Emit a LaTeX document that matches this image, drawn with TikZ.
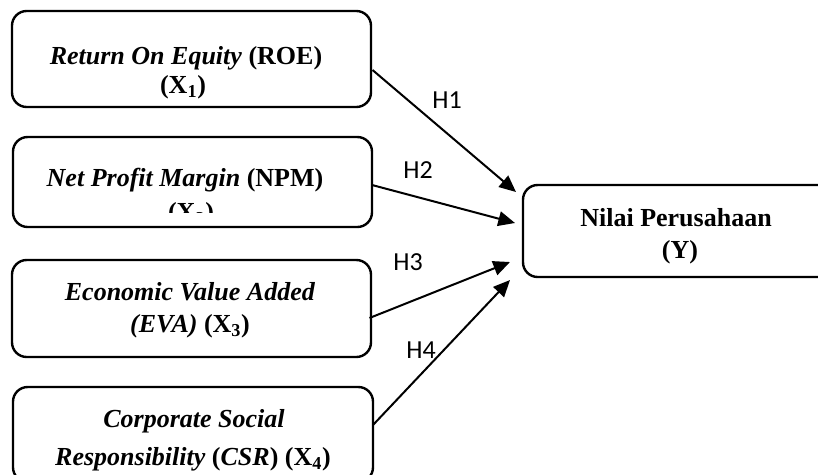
\documentclass[tikz,border=0pt]{standalone}
\usepackage{fontspec}
\setmainfont{Liberation Serif}
\newfontfamily\hfont{Carlito}
\usetikzlibrary{arrows.meta,calc}
\begin{document}
\begin{tikzpicture}[x=0.75pt,y=-0.75pt,
  box/.style={draw,line width=1.8pt,rounded corners=11pt,inner sep=0pt,outer sep=0pt},
  txt/.style={inner sep=0pt,anchor=base,font=\fontsize{19.5pt}{23pt}\selectfont\bfseries},
  hl/.style={inner sep=0pt,anchor=base,font=\hfont\fontsize{19.5pt}{23pt}\selectfont},
  arr/.style={-{Triangle[length=12.5pt,width=11pt]},line width=1.5pt}]
\useasboundingbox (0,0) rectangle (818,475);
\clip (0,0) rectangle (818,475);
% boxes
\node[box,minimum width=269.25pt,minimum height=72pt] (b1) at (191.5,59) {};
\node[box,minimum width=269.25pt,minimum height=67.5pt] (b2) at (192.5,182) {};
\node[box,minimum width=269.25pt,minimum height=72.75pt] (b3) at (191.5,308.5) {};
\node[box,minimum width=270pt,minimum height=71.25pt] (b4) at (193,434.5) {};
\node[box,minimum width=232.5pt,minimum height=69pt] (y) at (678,231) {};
% texts
\node[txt] (b1a) at (186,64) {\textit{Return On Equity} (ROE)};
\node[txt] (b1b) at (183,93) {(X\textsubscript{1})};
\node[txt] (b2a) at (185,186) {\textit{Net Profit Margin} (NPM)};
\begin{scope}
\clip (0,0) rectangle (818,212);
\node[txt] (b2b) at (191,220) {(X\textsubscript{2})};
\end{scope}
\node[txt] (b3a) at (190,300) {\textit{Economic Value Added}};
\node[txt] (b3b) at (190,332) {\textit{(EVA)} (X\textsubscript{3})};
\node[txt] (b4a) at (194,427) {\textit{Corporate Social}};
\node[txt] (b4b) at (193,465) {\textit{Responsibility} (\textit{CSR}) (X\textsubscript{4})};
\node[txt] (ya) at (676,226) {Nilai Perusahaan};
\node[txt] (yb) at (680,258) {(Y)};
% connector ends
\coordinate (s1) at ($(b1.east)+(1.5,11)$);
\coordinate (s2) at ($(b2.east)+(0,3)$);
\coordinate (s3) at ($(b3.east)+(-1.5,9.5)$);
\coordinate (s4) at ($(b4.east)+(0,-9.5)$);
\coordinate (t1) at ($(y.west)+(-7,-39)$);
\coordinate (t2) at ($(y.west)+(-8,-8)$);
\coordinate (t3) at ($(y.west)+(-13,31)$);
\coordinate (t4) at ($(y.west)+(-13,49)$);
\draw[arr] (s1) -- (t1);
\draw[arr] (s2) -- (t2);
\draw[arr] (s3) -- (t3);
\draw[arr] (s4) -- (t4);
% labels
\node[hl] (h1) at (447,108) {H1};
\node[hl] (h2) at (418,178) {H2};
\node[hl] (h3) at (408,270) {H3};
\node[hl] (h4) at (421,358) {H4};
\end{tikzpicture}
\end{document}
